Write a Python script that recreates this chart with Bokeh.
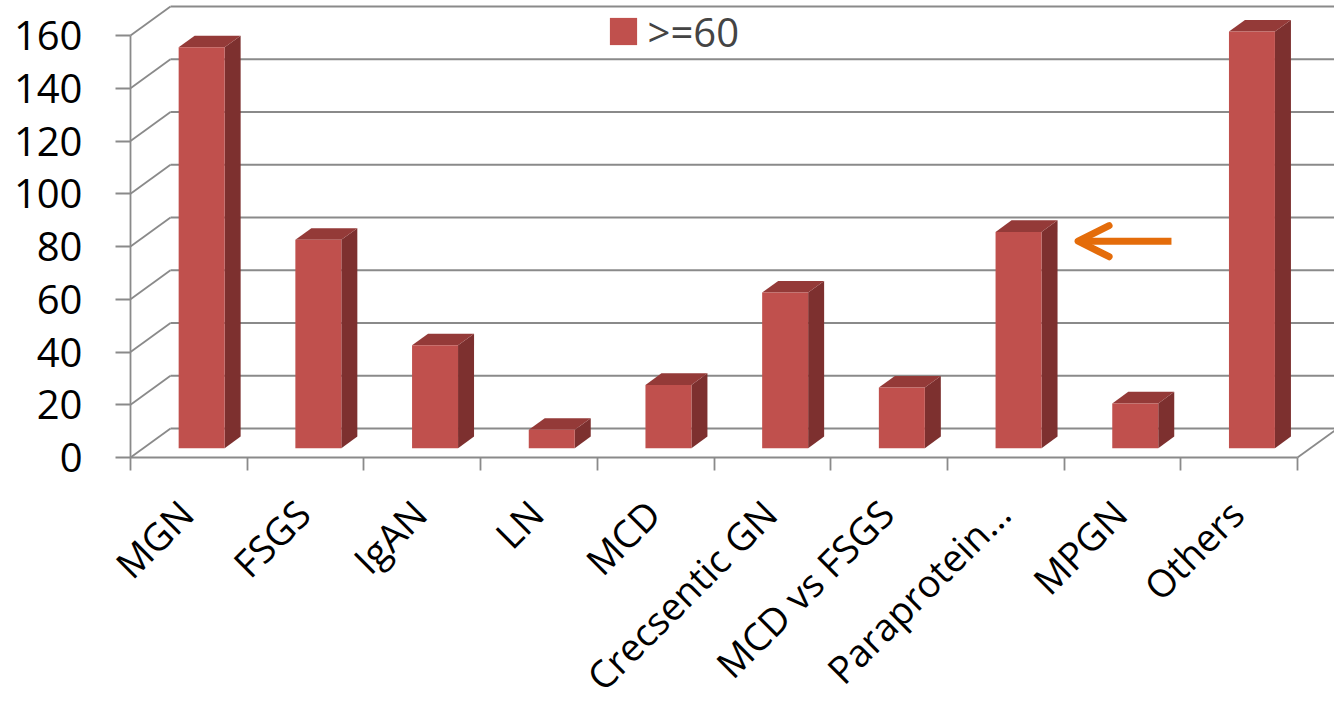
import numpy as np
from bokeh.plotting import figure
from bokeh.models import (Range1d, LinearAxis, FixedTicker, Legend, LegendItem,
                          Arrow, OpenHead)
from bokeh.embed import file_html
from bokeh.resources import INLINE

# ---------------- data ----------------
categories = ["MGN", "FSGS", "IgAN", "LN", "MCD", "Crecsentic GN",
              "MCD vs FSGS", "Paraprotein…", "MPGN", "Others"]
values = [152, 79, 39, 7, 24, 59, 23, 82, 17, 158]
series_label = ">=60"
y_ticks = [0, 20, 40, 60, 80, 100, 120, 140, 160]
highlight = "Paraprotein…"

# ---------------- layout ----------------
W, H = 1334, 710
CAT_PX = 116.7        # px per category
UNIT_PX = 2.6375      # px per value unit
ORIGIN_X = 130        # px of the front axis corner from left
ORIGIN_Y = 457        # px of the front axis corner from top

x_start = -ORIGIN_X / CAT_PX
x_end = (W - ORIGIN_X) / CAT_PX
y_start = -(H - ORIGIN_Y) / UNIT_PX
y_end = ORIGIN_Y / UNIT_PX

DX = 40 / CAT_PX      # depth offset (category units)
DY = 29 / UNIT_PX     # depth offset (value units)
BAR_W = 0.394
BAR_D0 = 0.32
BAR_D1 = 0.72
LABEL_OFF = -3 / CAT_PX

RED = "#C0504D"
SIDE = "#7D302F"
TOP = "#943A38"
GRID = "#8A8A8A"
ORANGE = "#E46C0A"
FONT = "Open Sans"

p = figure(width=W, height=H, x_range=Range1d(x_start, x_end),
           y_range=Range1d(y_start, y_end), x_axis_type=None, y_axis_type=None,
           toolbar_location=None, output_backend="svg", min_border=0,
           outline_line_color=None, background_fill_color="white")

n = len(categories)
# back wall gridlines
p.segment(x0=[DX] * len(y_ticks), y0=[v + DY for v in y_ticks],
          x1=[x_end + 1] * len(y_ticks), y1=[v + DY for v in y_ticks],
          line_color=GRID, line_width=1.8)
# side wall diagonals
p.segment(x0=[0] * len(y_ticks), y0=y_ticks,
          x1=[DX] * len(y_ticks), y1=[v + DY for v in y_ticks],
          line_color=GRID, line_width=1.8)
# floor right edge
p.segment(x0=[n], y0=[0], x1=[n + DX], y1=[DY], line_color=GRID, line_width=1.8)

# bars
sx = (BAR_D1 - BAR_D0) * DX
sy = (BAR_D1 - BAR_D0) * DY
lefts, rights, bottoms, tops = [], [], [], []
side_xs, side_ys, top_xs, top_ys = [], [], [], []
for i, v in enumerate(values):
    l = i + 0.5 - BAR_W / 2 + BAR_D0 * DX
    r = l + BAR_W
    b = BAR_D0 * DY
    t = v + BAR_D0 * DY
    lefts.append(l); rights.append(r); bottoms.append(b); tops.append(t)
    side_xs.append([r, r + sx, r + sx, r])
    side_ys.append([b, b + sy, t + sy, t])
    top_xs.append([l, l + sx, r + sx, r])
    top_ys.append([t, t + sy, t + sy, t])

p.patches(side_xs, side_ys, fill_color=SIDE, line_color=None)
p.patches(top_xs, top_ys, fill_color=TOP, line_color=None)
front = p.quad(left=lefts, right=rights, bottom=bottoms, top=tops,
               fill_color=RED, line_color=None)

# y axis (front plane)
yaxis = LinearAxis(fixed_location=0, ticker=FixedTicker(ticks=y_ticks),
                   bounds=(y_ticks[0], y_ticks[-1]),
                   axis_line_color=GRID, axis_line_width=1.8,
                   major_tick_line_color=GRID, major_tick_line_width=1.8,
                   major_tick_out=15, major_tick_in=0,
                   minor_tick_line_color=None,
                   major_label_standoff=33,
                   major_label_text_font=FONT,
                   major_label_text_font_size="40px",
                   major_label_text_color="black")
p.add_layout(yaxis, "left")

# x axis (front floor edge) on a shifted range so labels sit at category centres
p.extra_x_ranges = {"lab": Range1d(x_start - 0.5 - LABEL_OFF, x_end - 0.5 - LABEL_OFF)}
eps = 1e-6
xaxis = LinearAxis(x_range_name="lab", fixed_location=0,
                   ticker=FixedTicker(ticks=list(range(n)),
                                      minor_ticks=[j - 0.5 - LABEL_OFF for j in range(n + 1)]),
                   bounds=(-0.5 - LABEL_OFF - eps, n - 0.5 - LABEL_OFF + eps),
                   axis_line_color=GRID, axis_line_width=1.8,
                   major_tick_out=0, major_tick_in=0,
                   minor_tick_line_color=GRID, minor_tick_line_width=1.8,
                   minor_tick_out=13, minor_tick_in=0,
                   major_label_overrides={i: c for i, c in enumerate(categories)},
                   major_label_orientation=np.pi / 4,
                   major_label_standoff=36,
                   major_label_text_font=FONT,
                   major_label_text_font_size="38px",
                   major_label_text_color="black")
p.add_layout(xaxis, "below")

# arrow pointing at highlighted bar
hi = categories.index(highlight)
hv = values[hi]
p.add_layout(Arrow(end=OpenHead(size=31, line_color=ORANGE, line_width=7,
                                line_cap="round", line_join="round"),
                   x_start=hi + 1.92, y_start=hv, x_end=hi + 1.12, y_end=hv,
                   line_color=ORANGE, line_width=7))

legend = Legend(items=[LegendItem(label=series_label, renderers=[front])],
                location=(605.6, 651.5), orientation="horizontal",
                glyph_width=34, glyph_height=34, label_height=27,
                label_standoff=8, padding=0, margin=0, spacing=0,
                border_line_color=None, background_fill_alpha=0,
                label_text_font=FONT, label_text_font_size="40px")
p.add_layout(legend)

open("out.html", "w").write(file_html(p, INLINE))
